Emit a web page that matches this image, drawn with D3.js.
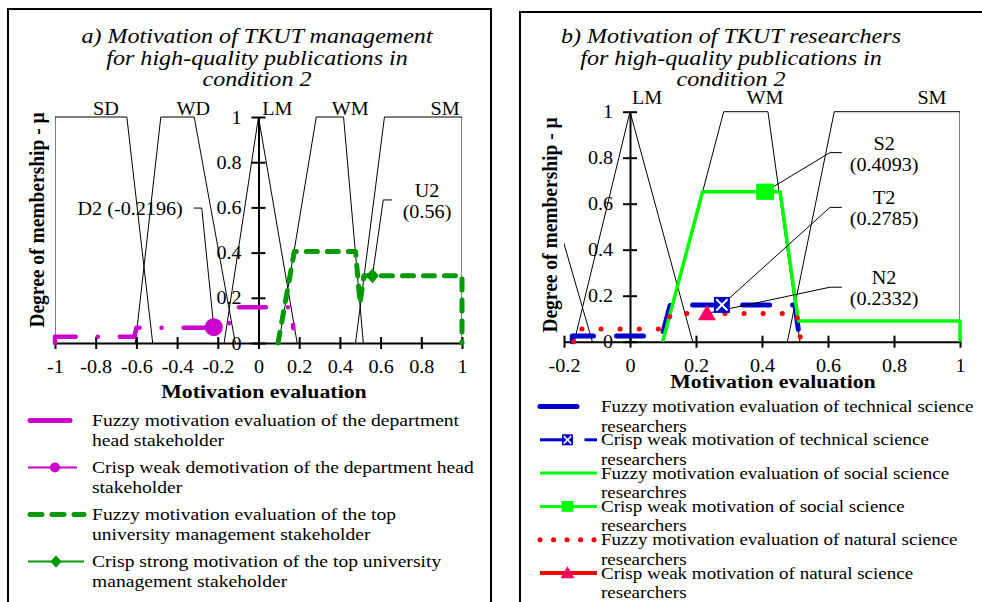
<!DOCTYPE html>
<html>
<head>
<meta charset="utf-8">
<script src="https://cdn.jsdelivr.net/npm/d3@7"></script>
<style>
  body { margin: 0; background: #fff; }
  text { font-family: "Liberation Serif", "Times New Roman", serif; fill: #000; }
</style>
</head>
<body>
<svg id="chart" width="982" height="602"></svg>
<script>
// ---- data ----
// trapezoid membership functions, corners [a, b, c, d]
const mfNames = ["SD", "WD", "LM", "WM", "SM"];
const mfCorners = [
  [-1, -1, -0.647, -0.52],
  [-0.605, -0.48, -0.316, -0.114],
  [-0.169, 0, 0, 0.19],
  [0.1, 0.284, 0.418, 0.515],
  [0.477, 0.619, 1, 1]
];
const mfLabelXA = [-0.75, -0.32, 0.093, 0.451, 0.917];
const mfLabelXB = [null, null, 0.052, 0.409, 0.915];

const xTicksA = [-1, -0.8, -0.6, -0.4, -0.2, 0, 0.2, 0.4, 0.6, 0.8, 1];
const xTicksB = [-0.2, 0, 0.2, 0.4, 0.6, 0.8, 1];
const yTicks = [0, 0.2, 0.4, 0.6, 0.8, 1];

// panel a
const headX = [-1, -1, -0.61, -0.6, -0.15, -0.125, 0.166, 0.171];
const headY = [0, 0.028, 0.028, 0.068, 0.068, 0.158, 0.158, 0.065];
const topX = [0.096, 0.176, 0.477, 0.499, 0.518, 1, 1];
const topY = [0, 0.405, 0.405, 0.175, 0.298, 0.298, 0];
const crispD2 = [-0.2196, 0.07];
const crispU2 = [0.56, 0.298];

// panel b
const techX = [-0.175, -0.175, 0.097, 0.122, 0.5, 0.515];
const techY = [0, 0.025, 0.025, 0.16, 0.16, 0];
const socX = [0.099, 0.22, 0.455, 0.51, 1, 1];
const socY = [0, 0.652, 0.652, 0.09, 0.09, 0];
const natX = [-0.17, -0.165, 0.102, 0.125, 0.505, 0.518];
const natY = [0, 0.055, 0.055, 0.123, 0.123, 0];
const crispT2 = [0.2785, 0.16];
const crispS2 = [0.4093, 0.652];
const crispN2 = [0.2332, 0.123];

const titleA = ["a) Motivation of TKUT management", "for high-quality publications in", "condition 2"];
const titleB = ["b) Motivation of TKUT researchers", "for high-quality publications in", "condition 2"];

const legendA = [
  ["Fuzzy motivation evaluation of the department", "head stakeholder"],
  ["Crisp weak demotivation of the department head", "stakeholder"],
  ["Fuzzy motivation evaluation of the top", "university management stakeholder"],
  ["Crisp strong motivation of the top university", "management stakeholder"]
];
const legendB = [
  ["Fuzzy motivation evaluation of technical science", "researchers"],
  ["Crisp weak motivation of technical science", "researchers"],
  ["Fuzzy motivation evaluation of social science", "researchres"],
  ["Crisp weak motivation of social science", "researchers"],
  ["Fuzzy motivation evaluation of natural science", "researchers"],
  ["Crisp weak motivation of natural science", "researchers"]
];

// ---- styles ----
const SX = 1.12;   // reference text is a bit wide
const magenta = "#cc00cc", dgreen = "#009900", blue = "#0000cc", lime = "#00ff00", red = "#ff0000", pink = "#ff0066";

const svg = d3.select("#chart");

function stext(parent, x, y, str, size) {
  return parent.append("text")
    .attr("transform", `translate(${x},${y}) scale(${SX},1)`)
    .style("font-size", size + "px")
    .text(str);
}

function marker(g, kind, cx, cy, s) {
  if (kind === "circle") {
    g.append("circle").attr("cx", cx).attr("cy", cy).attr("r", s).attr("fill", magenta);
  } else if (kind === "diamond") {
    g.append("path").attr("d", `M${cx},${cy - s * 1.15}L${cx + s},${cy}L${cx},${cy + s * 1.15}L${cx - s},${cy}Z`).attr("fill", dgreen);
  } else if (kind === "square") {
    g.append("rect").attr("x", cx - s).attr("y", cy - s * 0.9).attr("width", 2 * s).attr("height", 1.8 * s).attr("fill", lime);
  } else if (kind === "xbox") {
    g.append("rect").attr("x", cx - s).attr("y", cy - s).attr("width", 2 * s).attr("height", 2 * s).attr("fill", blue);
    const k = s * 0.7;
    g.append("path").attr("d", `M${cx - k},${cy - k}L${cx + k},${cy + k}M${cx + k},${cy - k}L${cx - k},${cy + k}`)
      .attr("stroke", "#fff").attr("stroke-width", Math.max(1.5, s / 4));
  } else if (kind === "triangle") {
    g.append("path").attr("d", `M${cx},${cy - s * 0.95}L${cx + s},${cy + s * 0.75}L${cx - s},${cy + s * 0.75}Z`).attr("fill", pink);
  }
}

const seriesStyle = {
  head: { stroke: magenta, width: 4.5, dash: "27 22 0.1 22", cap: "round" },
  top: { stroke: dgreen, width: 5, dash: "11 10", cap: "round" },
  tech: { stroke: blue, width: 5, dash: "27 23", cap: "round" },
  soc: { stroke: lime, width: 3.5, dash: null, cap: "butt" },
  nat: { stroke: red, width: 5, dash: "0.1 19", cap: "round" }
};

function legendSymbol(g, kind, x0, x1, cy) {
  const ln = (a, b, color, w, dash, cap) => g.append("line")
    .attr("x1", a).attr("x2", b).attr("y1", cy).attr("y2", cy)
    .attr("stroke", color).attr("stroke-width", w)
    .attr("stroke-dasharray", dash).attr("stroke-linecap", cap || "butt");
  const mid = (x0 + x1) / 2;
  switch (kind) {
    case "head": ln(x0 + 2, x1 - 14, magenta, 5, null, "round"); break;
    case "crispHead": ln(x0, x1 - 7, magenta, 2); marker(g, "circle", mid - 1, cy, 5); break;
    case "top": ln(x0 + 2, x1, dgreen, 5, "12 10", "round"); break;
    case "crispTop": ln(x0, x1, dgreen, 2); marker(g, "diamond", mid, cy, 5.5); break;
    case "tech": ln(x0, x1 - 20, blue, 5, null, "round"); break;
    case "crispTech": ln(x0, mid - 6, blue, 3); ln(mid + 16, x1, blue, 3); marker(g, "xbox", mid - 1, cy, 5.5); break;
    case "soc": ln(x0, x1, lime, 3); break;
    case "crispSoc": ln(x0, x1, lime, 3); marker(g, "square", mid - 1, cy, 6); break;
    case "nat": ln(x0, x1, red, 5, "0.1 13.4", "round"); break;
    case "crispNat": ln(x0, x1, red, 4); marker(g, "triangle", mid - 1, cy, 7); break;
  }
}

class MembershipChart {
  constructor(config) {
    this.config = config;
    this.init();
  }

  init() {
    let self = this;
    const c = self.config;
    self.g = svg.append("g");
    self.x = d3.scaleLinear().domain(c.xDomain).range(c.xRange);
    self.y = d3.scaleLinear().domain([0, 1]).range(c.yRange);

    const clipId = "clip" + c.id;
    svg.append("clipPath").attr("id", clipId).append("rect")
      .attr("x", self.x(c.xDomain[0])).attr("y", self.y(1) - 2)
      .attr("width", self.x(c.xDomain[1]) - self.x(c.xDomain[0]))
      .attr("height", self.y(0) - self.y(1) + 4);
    self.clip = `url(#${clipId})`;
  }

  render() {
    let self = this;
    const c = self.config, g = self.g, x = self.x, y = self.y;

    // frame
    g.append("rect").attr("x", c.frame[0]).attr("y", c.frame[1])
      .attr("width", c.frame[2]).attr("height", c.frame[3])
      .attr("fill", "none").attr("stroke", "#000").attr("stroke-width", 2);

    // title
    c.title.forEach((t, i) => {
      stext(g, c.titleX, 43 + i * 21.5, t, 21.5).attr("text-anchor", "middle").style("font-style", "italic");
    });

    // axes
    const xAxis = g.append("g").attr("transform", `translate(0,${y(0)})`)
      .call(d3.axisBottom(x).tickValues(c.xTicks).tickFormat(d => String(d)).tickSizeOuter(0));
    const yAxis = g.append("g").attr("transform", `translate(${x(0)},0)`)
      .call(d3.axisLeft(y).tickValues(yTicks).tickFormat(d => String(d)).tickSizeOuter(0));
    [xAxis, yAxis].forEach(a => {
      a.attr("font-family", null).attr("font-size", null);
      a.select(".domain").attr("stroke-width", 2);
      a.selectAll(".tick line").attr("stroke-width", 2);
      a.selectAll(".tick text").style("font-size", "18px").attr("transform", `scale(${SX},1)`);
    });
    xAxis.selectAll(".tick line").attr("y1", -6).attr("y2", 6);
    xAxis.selectAll(".tick text").attr("y", 30).attr("dy", 0);
    yAxis.selectAll(".tick line").attr("x1", -7).attr("x2", 7);
    yAxis.selectAll(".tick text").attr("x", -15).attr("dy", "0.34em");

    stext(g, c.xTitle[0], c.xTitle[1], "Motivation evaluation", 19.5)
      .attr("text-anchor", "middle").style("font-weight", "bold");
    g.append("text")
      .attr("transform", `translate(${c.yTitle[0]},${c.yTitle[1]}) rotate(-90) scale(1,${SX})`)
      .attr("text-anchor", "middle").style("font-size", "19.5px").style("font-weight", "bold")
      .text("Degree of membership - \u03bc");

    // membership functions
    const line = d3.line().x(d => x(d[0])).y(d => y(d[1]));
    const mfG = g.append("g").attr("clip-path", self.clip);
    mfCorners.forEach(k => {
      mfG.append("path")
        .attr("d", line([[k[0], 0], [k[1], 1], [k[2], 1], [k[3], 0]]))
        .attr("fill", "none").attr("stroke", "#000").attr("stroke-width", 1);
    });
    mfNames.forEach((n, i) => {
      if (c.mfLabelX[i] == null) return;
      stext(g, x(c.mfLabelX[i]), c.mfLabelY, n, 18).attr("text-anchor", "middle");
    });

    // fuzzy evaluation series
    c.series.forEach(s => {
      const st = seriesStyle[s.style];
      g.append("path")
        .attr("d", line(d3.zip(s.xs, s.ys)))
        .attr("fill", "none").attr("stroke", st.stroke).attr("stroke-width", st.width)
        .attr("stroke-dasharray", st.dash).attr("stroke-linecap", st.cap).attr("stroke-linejoin", "round");
    });

    // annotations with leader lines
    c.notes.forEach(n => {
      const px = x(n.point[0]), py = y(n.point[1]);
      g.append("path")
        .attr("d", `M${x(n.elbow[1])},${y(n.elbow[2])}H${x(n.elbow[0])}L${px},${py}`)
        .attr("fill", "none").attr("stroke", "#000").attr("stroke-width", 1);
      n.lines.forEach((t, i) => {
        stext(g, x(n.textAt[0]), y(n.textAt[1]) + i * 20.5, t, 18).attr("text-anchor", n.anchor);
      });
    });

    // crisp markers
    c.markers.forEach(m => marker(g, m.kind, x(m.point[0]), y(m.point[1]), m.size));

    // legend
    const lg = g.append("g");
    const lp = c.legendPos;
    c.legend.forEach((lines, i) => {
      const by = lp.y + i * lp.pitch;
      legendSymbol(lg, c.legendKinds[i], lp.x0, lp.x1, by - 5.5);
      lines.forEach((t, j) => stext(lg, lp.tx, by + j * lp.lineH, t, lp.size));
    });
  }
}

const chartA = new MembershipChart({
  id: "A",
  frame: [8, 9, 483, 640],
  xDomain: [-1, 1], xRange: [55, 462], yRange: [343, 117],
  xTicks: xTicksA,
  title: titleA, titleX: 257,
  xTitle: [264, 398], yTitle: [44, 220],
  mfLabelX: mfLabelXA, mfLabelY: 115,
  series: [
    { xs: headX, ys: headY, style: "head" },
    { xs: topX, ys: topY, style: "top" }
  ],
  markers: [
    { kind: "circle", point: crispD2, size: 9 },
    { kind: "diamond", point: crispU2, size: 6.5 }
  ],
  notes: [
    { lines: ["D2 (-0.2196)"], textAt: [-0.372, 0.566], anchor: "end", elbow: [-0.279, -0.319, 0.597], point: crispD2 },
    { lines: ["U2", "(0.56)"], textAt: [0.828, 0.646], anchor: "middle", elbow: [0.613, 0.657, 0.633], point: crispU2 }
  ],
  legend: legendA,
  legendKinds: ["head", "crispHead", "top", "crispTop"],
  legendPos: { x0: 28, x1: 84, tx: 92, y: 426, pitch: 47, lineH: 20, size: 17.5 }
});
chartA.render();

const chartB = new MembershipChart({
  id: "B",
  frame: [520, 12, 500, 640],
  xDomain: [-0.2, 1], xRange: [564, 960], yRange: [341.7, 111.7],
  xTicks: xTicksB,
  title: titleB, titleX: 731,
  xTitle: [773, 388], yTitle: [557, 225],
  mfLabelX: mfLabelXB, mfLabelY: 104,
  series: [
    { xs: techX, ys: techY, style: "tech" },
    { xs: socX, ys: socY, style: "soc" },
    { xs: natX, ys: natY, style: "nat" }
  ],
  markers: [
    { kind: "square", point: crispS2, size: 9 },
    { kind: "xbox", point: crispT2, size: 8 },
    { kind: "triangle", point: crispN2, size: 9 }
  ],
  notes: [
    { lines: ["S2", "(0.4093)"], textAt: [0.77, 0.833], anchor: "middle", elbow: [0.606, 0.642, 0.822], point: crispS2 },
    { lines: ["T2", "(0.2785)"], textAt: [0.77, 0.597], anchor: "middle", elbow: [0.606, 0.642, 0.584], point: crispT2 },
    { lines: ["N2", "(0.2332)"], textAt: [0.77, 0.25], anchor: "middle", elbow: [0.606, 0.642, 0.237], point: crispN2 }
  ],
  legend: legendB,
  legendKinds: ["tech", "crispTech", "soc", "crispSoc", "nat", "crispNat"],
  legendPos: { x0: 540, x1: 597, tx: 601, y: 412, pitch: 33.3, lineH: 19.5, size: 17 }
});
chartB.render();
</script>
</body>
</html>
